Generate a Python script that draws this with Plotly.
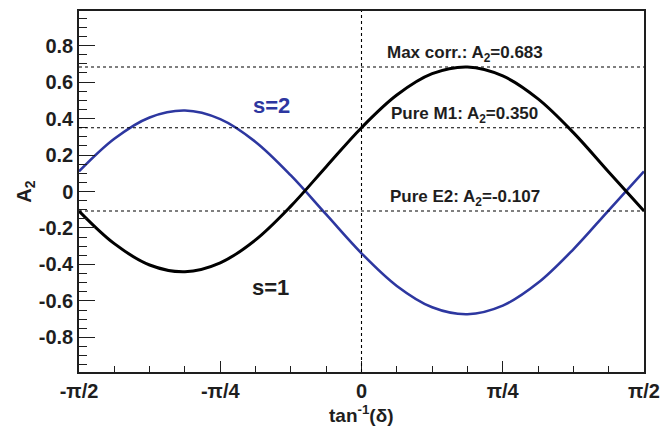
import numpy as np
import plotly.graph_objects as go

# Mixing angle grid: arctan(delta) from -pi/2 to pi/2 in steps of pi/16
theta = np.linspace(-np.pi / 2, np.pi / 2, 17)

# A2 coefficient for the two spin sequences
a2_s1 = [-0.107, -0.286, -0.403, -0.440, -0.391, -0.265, -0.080, 0.136, 0.350,
         0.529, 0.646, 0.683, 0.634, 0.508, 0.323, 0.107, -0.107]
a2_s2 = [0.110, 0.289, 0.406, 0.444, 0.397, 0.272, 0.088, -0.126, -0.339,
         -0.518, -0.635, -0.673, -0.626, -0.501, -0.317, -0.103, 0.110]

# Reference levels
ref_labels = ["Max corr.: A<sub>2</sub>=0.683", "Pure M1: A<sub>2</sub>=0.350",
              "Pure E2: A<sub>2</sub>=-0.107"]
ref_values = [0.683, 0.350, -0.107]

x_tickvals = [-np.pi / 2, -np.pi / 4, 0, np.pi / 4, np.pi / 2]
x_ticktext = ["-π/2", "-π/4", "0", "π/4", "π/2"]
y_tickvals = [-0.8, -0.6, -0.4, -0.2, 0, 0.2, 0.4, 0.6, 0.8]
y_ticktext = ["-0.8", "-0.6", "-0.4", "-0.2", "0", "0.2", "0.4", "0.6", "0.8"]

BLUE = "rgb(45,55,160)"
FONT = "Liberation Sans, Arial, sans-serif"
INK = "rgb(30,30,30)"

fig = go.Figure()

# Dotted guide lines
for v in ref_values:
    fig.add_shape(type="line", xref="x", yref="y", x0=-np.pi / 2, x1=np.pi / 2,
                  y0=v, y1=v, line=dict(color="black", width=1.1, dash="dot"))
fig.add_shape(type="line", xref="x", yref="paper", x0=0, x1=0, y0=0, y1=1,
              line=dict(color="black", width=1.1, dash="dot"))

fig.add_trace(go.Scatter(x=theta, y=a2_s2, mode="lines",
                         line=dict(color=BLUE, width=2.6, shape="spline"),
                         showlegend=False))
fig.add_trace(go.Scatter(x=theta, y=a2_s1, mode="lines",
                         line=dict(color="black", width=3, shape="spline"),
                         showlegend=False))

# Level labels above each dotted line
label_x = 0.574
for txt, v in zip(ref_labels, ref_values):
    fig.add_annotation(x=label_x, y=v, xref="x", yref="y", text=txt,
                       showarrow=False, yanchor="bottom", yshift=0,
                       font=dict(family=FONT, size=17, color=INK, weight="bold"))

fig.add_annotation(x=-0.501, y=0.474, xref="x", yref="y", text="s=2",
                   showarrow=False,
                   font=dict(family=FONT, size=22, color=BLUE, weight="bold"))
fig.add_annotation(x=-0.504, y=-0.524, xref="x", yref="y", text="s=1",
                   showarrow=False,
                   font=dict(family=FONT, size=22, color=INK, weight="bold"))

# x-axis title placed below the tick labels
fig.add_annotation(x=0.5, y=-0.117, xref="paper", yref="paper",
                   text="tan<sup>-1</sup>(δ)", showarrow=False,
                   xanchor="center", yanchor="middle",
                   font=dict(family=FONT, size=19, color=INK, weight="bold"))

axis_line = dict(showline=True, linecolor=INK, linewidth=1.5, mirror=True,
                 showgrid=False, zeroline=False, automargin=False)

fig.update_xaxes(
    range=[-np.pi / 2, np.pi / 2], tickvals=x_tickvals, ticktext=x_ticktext,
    ticks="inside", ticklen=11, tickwidth=1.2, tickcolor=INK,
    minor=dict(dtick=np.pi / 16, tick0=0, ticks="inside", ticklen=6,
               tickwidth=1.2, tickcolor=INK),
    tickfont=dict(family=FONT, size=20, color=INK, weight="bold"),
    **axis_line)

fig.update_yaxes(
    range=[-0.99, 0.99], tickvals=y_tickvals, ticktext=y_ticktext,
    ticks="inside", ticklen=16, tickwidth=1.2, tickcolor=INK,
    minor=dict(dtick=0.05, tick0=0, ticks="inside", ticklen=8,
               tickwidth=1.2, tickcolor=INK),
    tickfont=dict(family=FONT, size=20, color=INK, weight="bold"),
    title=dict(text="A<sub>2</sub>", standoff=2,
               font=dict(family=FONT, size=20, color=INK, weight="bold")),
    **axis_line)

fig.update_layout(
    width=670, height=428,
    margin=dict(l=79, r=26, t=11, b=56),
    paper_bgcolor="white", plot_bgcolor="white",
)

fig.write_html("out.html")
